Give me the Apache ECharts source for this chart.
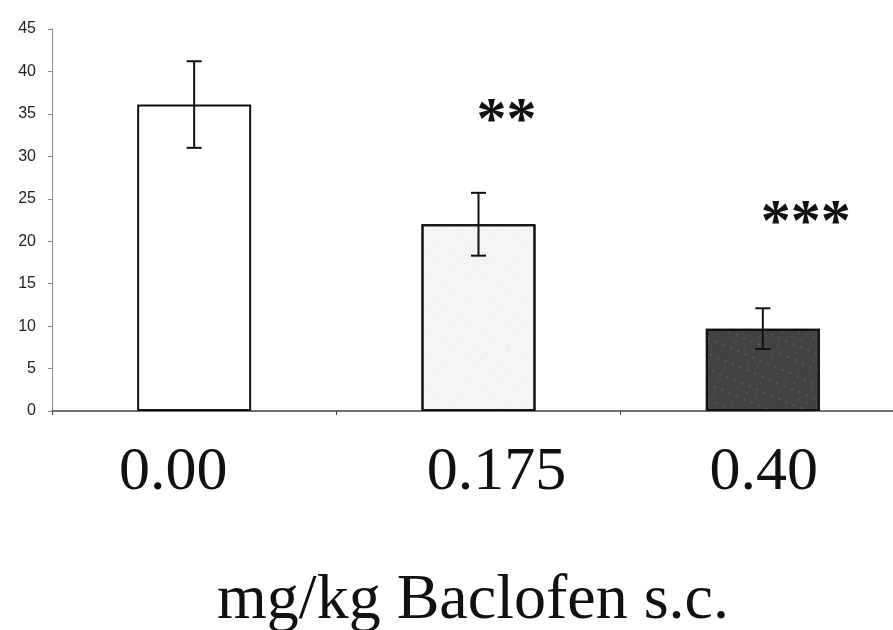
<!DOCTYPE html>
<html>
<head>
<meta charset="utf-8">
<script src="https://cdn.jsdelivr.net/npm/echarts@6/dist/echarts.min.js"></script>
<style>
  html, body { margin: 0; padding: 0; background: #fff; }
  #chart { width: 893px; height: 630px; }
</style>
</head>
<body>
<div id="chart"></div>
<script>
// doses (x categories)
const doses = ['0.00', '0.175', '0.40'];
// mean response per dose
const means = [36.1, 22.0, 9.7];
// +/- error per dose
const errors = [5.1, 3.7, 2.4];
// significance marks and the level they sit at
const stars = ['', '**', '***'];
const starLevels = [null, 34.0, 22.0];

const fills = ['#ffffff', '#f4f4f4', '#424242'];
const decals = [
    null,
    { symbol: 'rect', symbolSize: 0.5, color: 'rgba(110,110,110,0.45)', dashArrayX: [[1, 9], [2, 13]], dashArrayY: [1, 7], rotation: 0.6 },
    { symbol: 'rect', symbolSize: 0.6, color: 'rgba(220,220,220,0.45)', dashArrayX: [[2, 6], [1, 9]], dashArrayY: [2, 5], rotation: 0.4 }
];
// the scanned tick labels sit a little off their bars
const labelShift = { l0: [0, 42, 0, 0], l1: [0, 0, 0, 36], l2: [0, 0, 0, 2] };

function setChart() {
    const chart = echarts.init(document.getElementById('chart'));

    const barData = means.map((v, i) => ({
        value: v,
        itemStyle: { color: fills[i], decal: decals[i] || undefined }
    }));
    const errData = means.map((v, i) => [i, v - errors[i], v + errors[i]]);
    const starData = starLevels.map((v, i) => [i, v == null ? 0 : v]);

    const labelFont = { fontFamily: 'Liberation Serif', fontSize: 62, color: '#111' };
    const rich = {};
    Object.keys(labelShift).forEach(k => {
        rich[k] = Object.assign({ padding: labelShift[k] }, labelFont);
    });

    chart.setOption({
        animation: false,
        title: {
            text: 'mg/kg Baclofen s.c.',
            left: 468,
            top: 564,
            textAlign: 'center',
            textStyle: {
                fontFamily: 'Liberation Serif',
                fontSize: 64,
                fontWeight: 'normal',
                color: '#111'
            }
        },
        grid: { left: 52, top: 29, width: 853, bottom: 219, outerBoundsMode: 'none', containLabel: false },
        xAxis: {
            type: 'category',
            data: doses,
            axisLine: { lineStyle: { color: '#444', width: 1.5 } },
            axisTick: { show: true, interval: 0, length: 4, lineStyle: { color: '#444' } },
            axisLabel: Object.assign({
                interval: 0,
                hideOverlap: false,
                margin: 31,
                formatter: (val, idx) => `{l${idx}|${val}}`,
                rich: rich
            }, labelFont),
            splitLine: { show: false }
        },
        yAxis: {
            type: 'value',
            min: 0,
            max: 45,
            interval: 5,
            axisLine: { show: true, lineStyle: { color: '#888', width: 1 } },
            axisTick: { show: true, length: 4, lineStyle: { color: '#888' } },
            axisLabel: {
                margin: 16,
                fontFamily: 'Liberation Sans',
                fontSize: 16,
                color: '#222'
            },
            splitLine: { show: false }
        },
        series: [
            {
                type: 'bar',
                data: barData,
                barWidth: 114,
                itemStyle: { borderColor: '#111', borderWidth: 2 }
            },
            {
                type: 'custom',
                data: errData,
                z: 5,
                renderItem: (params, api) => {
                    const x = api.coord([api.value(0), 0])[0];
                    const lo = api.coord([api.value(0), api.value(1)])[1];
                    const hi = api.coord([api.value(0), api.value(2)])[1];
                    const cap = 7.5;
                    const style = { stroke: '#111', lineWidth: 2 };
                    return {
                        type: 'group',
                        children: [
                            { type: 'line', shape: { x1: x, y1: hi, x2: x, y2: lo }, style },
                            { type: 'line', shape: { x1: x - cap, y1: hi, x2: x + cap, y2: hi }, style },
                            { type: 'line', shape: { x1: x - cap, y1: lo, x2: x + cap, y2: lo }, style }
                        ]
                    };
                }
            },
            {
                type: 'custom',
                data: starData,
                z: 6,
                renderItem: (params, api) => {
                    const p = api.coord([api.value(0), api.value(1)]);
                    return {
                        type: 'text',
                        x: p[0] - 2,
                        y: p[1],
                        style: {
                            text: stars[params.dataIndex],
                            fontFamily: 'Liberation Serif',
                            fontSize: 60,
                            fontWeight: 'bold',
                            fill: '#111',
                            align: 'left',
                            verticalAlign: 'middle'
                        }
                    };
                }
            }
        ]
    });
}

window.addEventListener('DOMContentLoaded', setChart);
</script>
</body>
</html>
